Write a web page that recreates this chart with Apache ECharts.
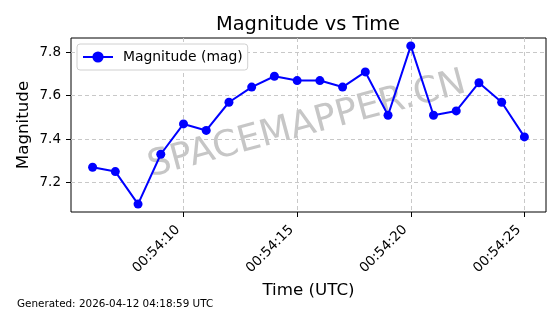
<!DOCTYPE html>
<html><head><meta charset="utf-8">
<script src="https://cdn.jsdelivr.net/npm/echarts@6/dist/echarts.min.js"></script>
<style>html,body{margin:0;padding:0;background:#fff}#c{width:560px;height:314px}</style>
</head><body><div id="c"></div>
<script>
const times = ["00:54:06","00:54:07","00:54:08","00:54:09","00:54:10","00:54:11","00:54:12","00:54:13","00:54:14","00:54:15","00:54:16","00:54:17","00:54:18","00:54:19","00:54:20","00:54:21","00:54:22","00:54:23","00:54:24","00:54:25"];
const magnitudes = [7.27,7.25,7.10,7.33,7.47,7.44,7.57,7.64,7.69,7.67,7.67,7.64,7.71,7.51,7.83,7.51,7.53,7.66,7.57,7.41];
const xTickLabels = ["00:54:10","00:54:15","00:54:20","00:54:25"];
const yTicks = [7.2,7.4,7.6,7.8];

function toSec(s){const p=s.split(':').map(Number);return p[0]*3600+p[1]*60+p[2];}
function fromSec(v){const h=Math.floor(v/3600),m=Math.floor((v%3600)/60),s=Math.round(v%60);const z=n=>String(n).padStart(2,'0');return z(h)+':'+z(m)+':'+z(s);}
const xs = times.map(toSec);
const xTickVals = xTickLabels.map(toSec);
const xMin = Math.min(...xs), xMax = Math.max(...xs), xPad = (xMax-xMin)*0.05;
const yMin = Math.min(...magnitudes), yMax = Math.max(...magnitudes), yPad = (yMax-yMin)*0.05;

const font = 'DejaVu Sans';
const chart = echarts.init(document.getElementById('c'), null, {renderer:'canvas'});
chart.setOption({
  animation:false,
  textStyle:{fontFamily:font},
  title:{text:'Magnitude vs Time',left:303,top:10,textAlign:'center',textStyle:{fontFamily:font,fontSize:19.4,fontWeight:'normal',color:'#000'}},
  legend:{left:77,top:44,padding:[6,5,6,5],itemGap:5,itemWidth:30,itemHeight:14,borderColor:'#d0d0d0',borderWidth:1,borderRadius:3,backgroundColor:'#fff',
    textStyle:{fontFamily:font,fontSize:13.9,color:'#000',padding:[0,0,0,5]},data:['Magnitude (mag)']},
  grid:{left:71,top:38,right:14,bottom:102,show:true,borderColor:'#000',borderWidth:1,backgroundColor:'transparent'},
  xAxis:{type:'value',min:xMin-xPad,max:xMax+xPad,
    axisLine:{show:false},
    axisTick:{show:true,inside:false,length:5,lineStyle:{color:'#000'},customValues:xTickVals},
    axisLabel:{customValues:xTickVals,rotate:45,margin:10,padding:[0,8,0,0],formatter:v=>fromSec(v),fontFamily:font,fontSize:13.5,color:'#000'},
    splitLine:{show:true,lineStyle:{color:'#c8c8c8',type:[4,3],width:1}},
    name:'Time (UTC)',nameLocation:'middle',nameGap:70,nameMoveOverlap:false,nameTextStyle:{fontFamily:font,fontSize:16.7,color:'#000'}},
  yAxis:{type:'value',min:yMin-yPad,max:yMax+yPad,
    axisLine:{show:false},
    axisTick:{show:true,inside:false,length:5,lineStyle:{color:'#000'},customValues:yTicks},
    axisLabel:{customValues:yTicks,margin:10,formatter:v=>v.toFixed(1),fontFamily:font,fontSize:13.5,color:'#000'},
    splitLine:{show:true,lineStyle:{color:'#c8c8c8',type:[4,3],width:1}},
    name:'Magnitude',nameLocation:'middle',nameGap:39,nameMoveOverlap:false,nameRotate:90,nameTextStyle:{fontFamily:font,fontSize:16.7,color:'#000'}},
  graphic:[
    {type:'text',left:17,top:299,style:{text:'Generated: 2026-04-12 04:18:59 UTC',fontFamily:font,fontSize:10.4,fill:'#000'}},
    {type:'text',x:307,y:125,rotation:15*Math.PI/180,z:0,style:{text:'SPACEMAPPER.CN',fontFamily:font,fontSize:36.5,fill:'rgba(128,128,128,0.45)',align:'center',verticalAlign:'middle'}}
  ],
  series:[{name:'Magnitude (mag)',type:'line',data:xs.map((x,i)=>[x,magnitudes[i]]),
    symbol:'circle',symbolSize:9,showSymbol:true,
    lineStyle:{color:'#0000ff',width:2},itemStyle:{color:'#0000ff'},z:3}]
});
</script></body></html>
